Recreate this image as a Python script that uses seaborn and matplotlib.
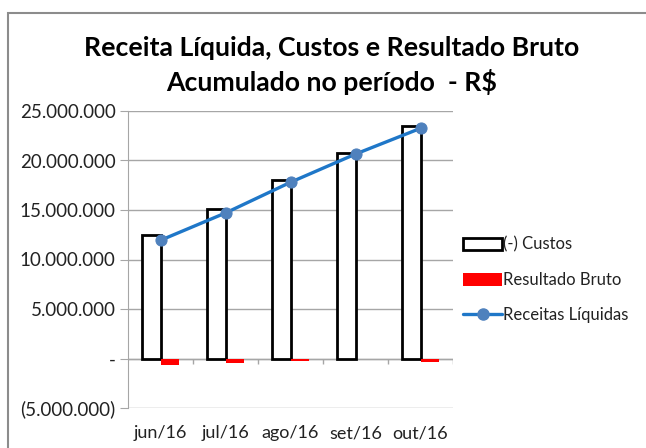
import numpy as np
import pandas as pd
import seaborn as sns
import matplotlib.pyplot as plt
from matplotlib.patches import Patch, Rectangle
from matplotlib.lines import Line2D
from matplotlib.ticker import FuncFormatter

# Data (R$)
meses = ['jun/16', 'jul/16', 'ago/16', 'set/16', 'out/16']
custos = [12450000, 15150000, 18000000, 20800000, 23500000]
resultado_bruto = [-700000, -450000, -250000, -100000, -350000]
receitas_liquidas = [11940000, 14700000, 17800000, 20650000, 23250000]

sns.set_style('white')
plt.rcParams['font.family'] = ['Lato', 'DejaVu Sans']

bars = pd.DataFrame({
    'mes': meses * 2,
    'valor': custos + resultado_bruto,
    'serie': ['(-) Custos'] * 5 + ['Resultado Bruto'] * 5,
})

fig = plt.figure(figsize=(6.46, 4.48), dpi=100)
ax = fig.add_axes([128 / 646, 1 - 408 / 448, 325 / 646, 297 / 448])

sns.barplot(data=bars, x='mes', y='valor', hue='serie', order=meses,
            palette={'(-) Custos': 'white', 'Resultado Bruto': '#FF0000'},
            saturation=1, width=0.58, gap=0, legend=False, ax=ax, zorder=2)

# style the cost bars: white with black outline
for p in ax.patches[:5]:
    p.set_edgecolor('black')
    p.set_linewidth(2)
for p in ax.patches[5:10]:
    p.set_edgecolor('none')

sns.lineplot(x=np.arange(len(meses)), y=receitas_liquidas, ax=ax, color='#1F77C8',
             linewidth=2.4, marker='o', markersize=8, markerfacecolor='#4F81BD',
             markeredgecolor='#4F81BD', zorder=4)

ax.set_xlim(-0.5, 4.5)
ax.set_ylim(-5000000, 25000000)
ax.set_yticks(np.arange(-5000000, 25000001, 5000000))


def fmt(v, pos):
    if v == 0:
        return '-'
    s = f'{abs(v):,.0f}'.replace(',', '.')
    return f'({s})' if v < 0 else s


ax.yaxis.set_major_formatter(FuncFormatter(fmt))
ax.grid(axis='y', color='#A6A6A6', linewidth=1, zorder=0)
ax.set_axisbelow(True)
ax.axhline(0, color='#A6A6A6', linewidth=1, zorder=1)
ax.vlines(np.arange(0.5, 5, 1), -550000, 0, color='#A6A6A6', linewidth=1, zorder=1)

for s in ['top', 'right', 'bottom']:
    ax.spines[s].set_visible(False)
ax.spines['left'].set_color('#A6A6A6')
ax.tick_params(axis='y', left=True, length=6, color='#A6A6A6', labelsize=13.5,
               labelcolor='#222222', pad=3)
ax.tick_params(axis='x', bottom=False, labelsize=13, labelcolor='#222222', pad=9)
ax.set_xlabel('')
ax.set_ylabel('')

fig.text(0.513, 1 - 48 / 448, 'Receita Líquida, Custos e Resultado Bruto', ha='center',
         va='center', fontsize=19.2, fontweight='bold', color='black')
fig.text(0.513, 1 - 82 / 448, 'Acumulado no período  - R$', ha='center',
         va='center', fontsize=19.2, fontweight='bold', color='black')

handles = [
    Patch(facecolor='white', edgecolor='black', linewidth=2),
    Patch(facecolor='#FF0000', edgecolor='none'),
    Line2D([0], [0], color='#1F77C8', linewidth=2.4, marker='o', markersize=8,
           markerfacecolor='#4F81BD', markeredgecolor='#4F81BD'),
]
fig.legend(handles, ['(-) Custos', 'Resultado Bruto', 'Receitas Líquidas'],
           loc='center left', bbox_to_anchor=(455 / 646, 1 - 280 / 448), frameon=False,
           fontsize=12, handlelength=2.3, handleheight=0.8, handletextpad=0.1,
           labelspacing=1.15, borderpad=0, labelcolor='#222222')

# chart area border (cropped at right and bottom)
fig.add_artist(Rectangle((8 / 646, -0.1), 1.2, 1 - 13 / 448 + 0.1, transform=fig.transFigure,
                         fill=False, edgecolor='#8C8C8C', linewidth=1.5))

fig.savefig('out.png', dpi=100)
